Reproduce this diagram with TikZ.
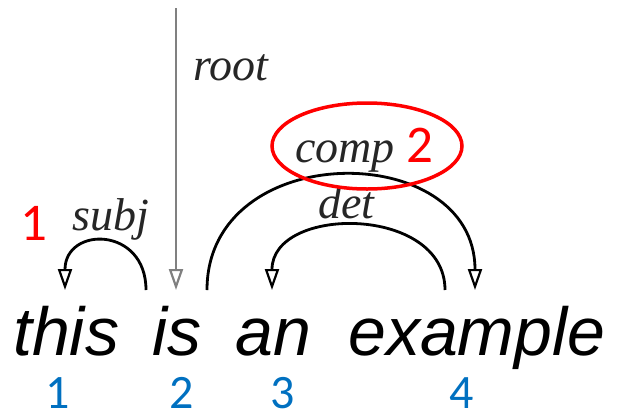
\documentclass[tikz,border=0pt]{standalone}
\usepackage{fontspec}
\setmainfont{Liberation Serif}
\newfontfamily\wordfont{Liberation Sans}
\newfontfamily\numfont{Carlito}
\usetikzlibrary{arrows.meta}
\definecolor{numblue}{RGB}{0,112,192}
\definecolor{markred}{RGB}{255,0,0}

\begin{document}
\begin{tikzpicture}[x=1pt, y=-1pt,
  word/.style={anchor=base west, inner sep=0pt, font=\wordfont\fontsize{68}{68}\selectfont\itshape},
  rel/.style={anchor=base west, inner sep=0pt, text=black!85, font=\fontsize{46}{46}\selectfont\itshape},
  idx/.style={anchor=base, inner sep=0pt, text=numblue, font=\numfont\fontsize{48}{48}\selectfont},
  redidx/.style={idx, text=markred, font=\numfont\fontsize{53}{53}\selectfont},
  tip/.style={-{Triangle[open,length=21pt,width=14pt,line width=2.2pt]}},
  dep/.style={line width=2.8pt, tip}]
  \useasboundingbox (0,0) rectangle (618,413);
  % words
  \node[word] (this) at (13,355) {this};
  \node[word] (is) at (152,355) {is};
  \node[word] (an) at (235,355) {an};
  \node[word] (example) at (348,355) {example};
  % word indices
  \node[idx] (n1) at (58,408) {1};
  \node[idx] (n2) at (182,408) {2};
  \node[idx] (n3) at (283,408) {3};
  \node[idx] (n4) at (462,408) {4};
  % arc end points
  \coordinate (root-top) at (176,8);
  \coordinate (is-in) at (176,290);
  \coordinate (this-in) at (65,290);
  \coordinate (is-out) at (146,290);
  \coordinate (is-out2) at (207,290);
  \coordinate (example-in) at (475,290);
  \coordinate (example-out) at (445,290);
  \coordinate (an-in) at (272,290);
  % root
  \draw[gray, line width=1.6pt, tip] (root-top) -- (is-in);
  \node[rel] (root) at (193,80) {root};
  % subj
  \draw[dep] (is-out) .. controls +(0,-64) and +(0,-64) .. (this-in);
  \node[rel] (subj) at (72,230) {subj};
  % comp
  \draw[dep] (is-out2) .. controls +(0,-152) and +(0,-152) .. (example-in);
  \node[rel] (comp) at (295,162) {comp};
  % det
  \draw[dep] (example-out) .. controls +(0,-85) and +(0,-85) .. (an-in);
  \node[rel] (det) at (318,218) {det};
  % red marks
  \node[redidx] (m1) at (34,240) {1};
  \node[redidx] (m2) at (420,162) {2};
  \draw[markred, line width=3.5pt] (367,146) ellipse [x radius=95, y radius=43];
\end{tikzpicture}
\end{document}
